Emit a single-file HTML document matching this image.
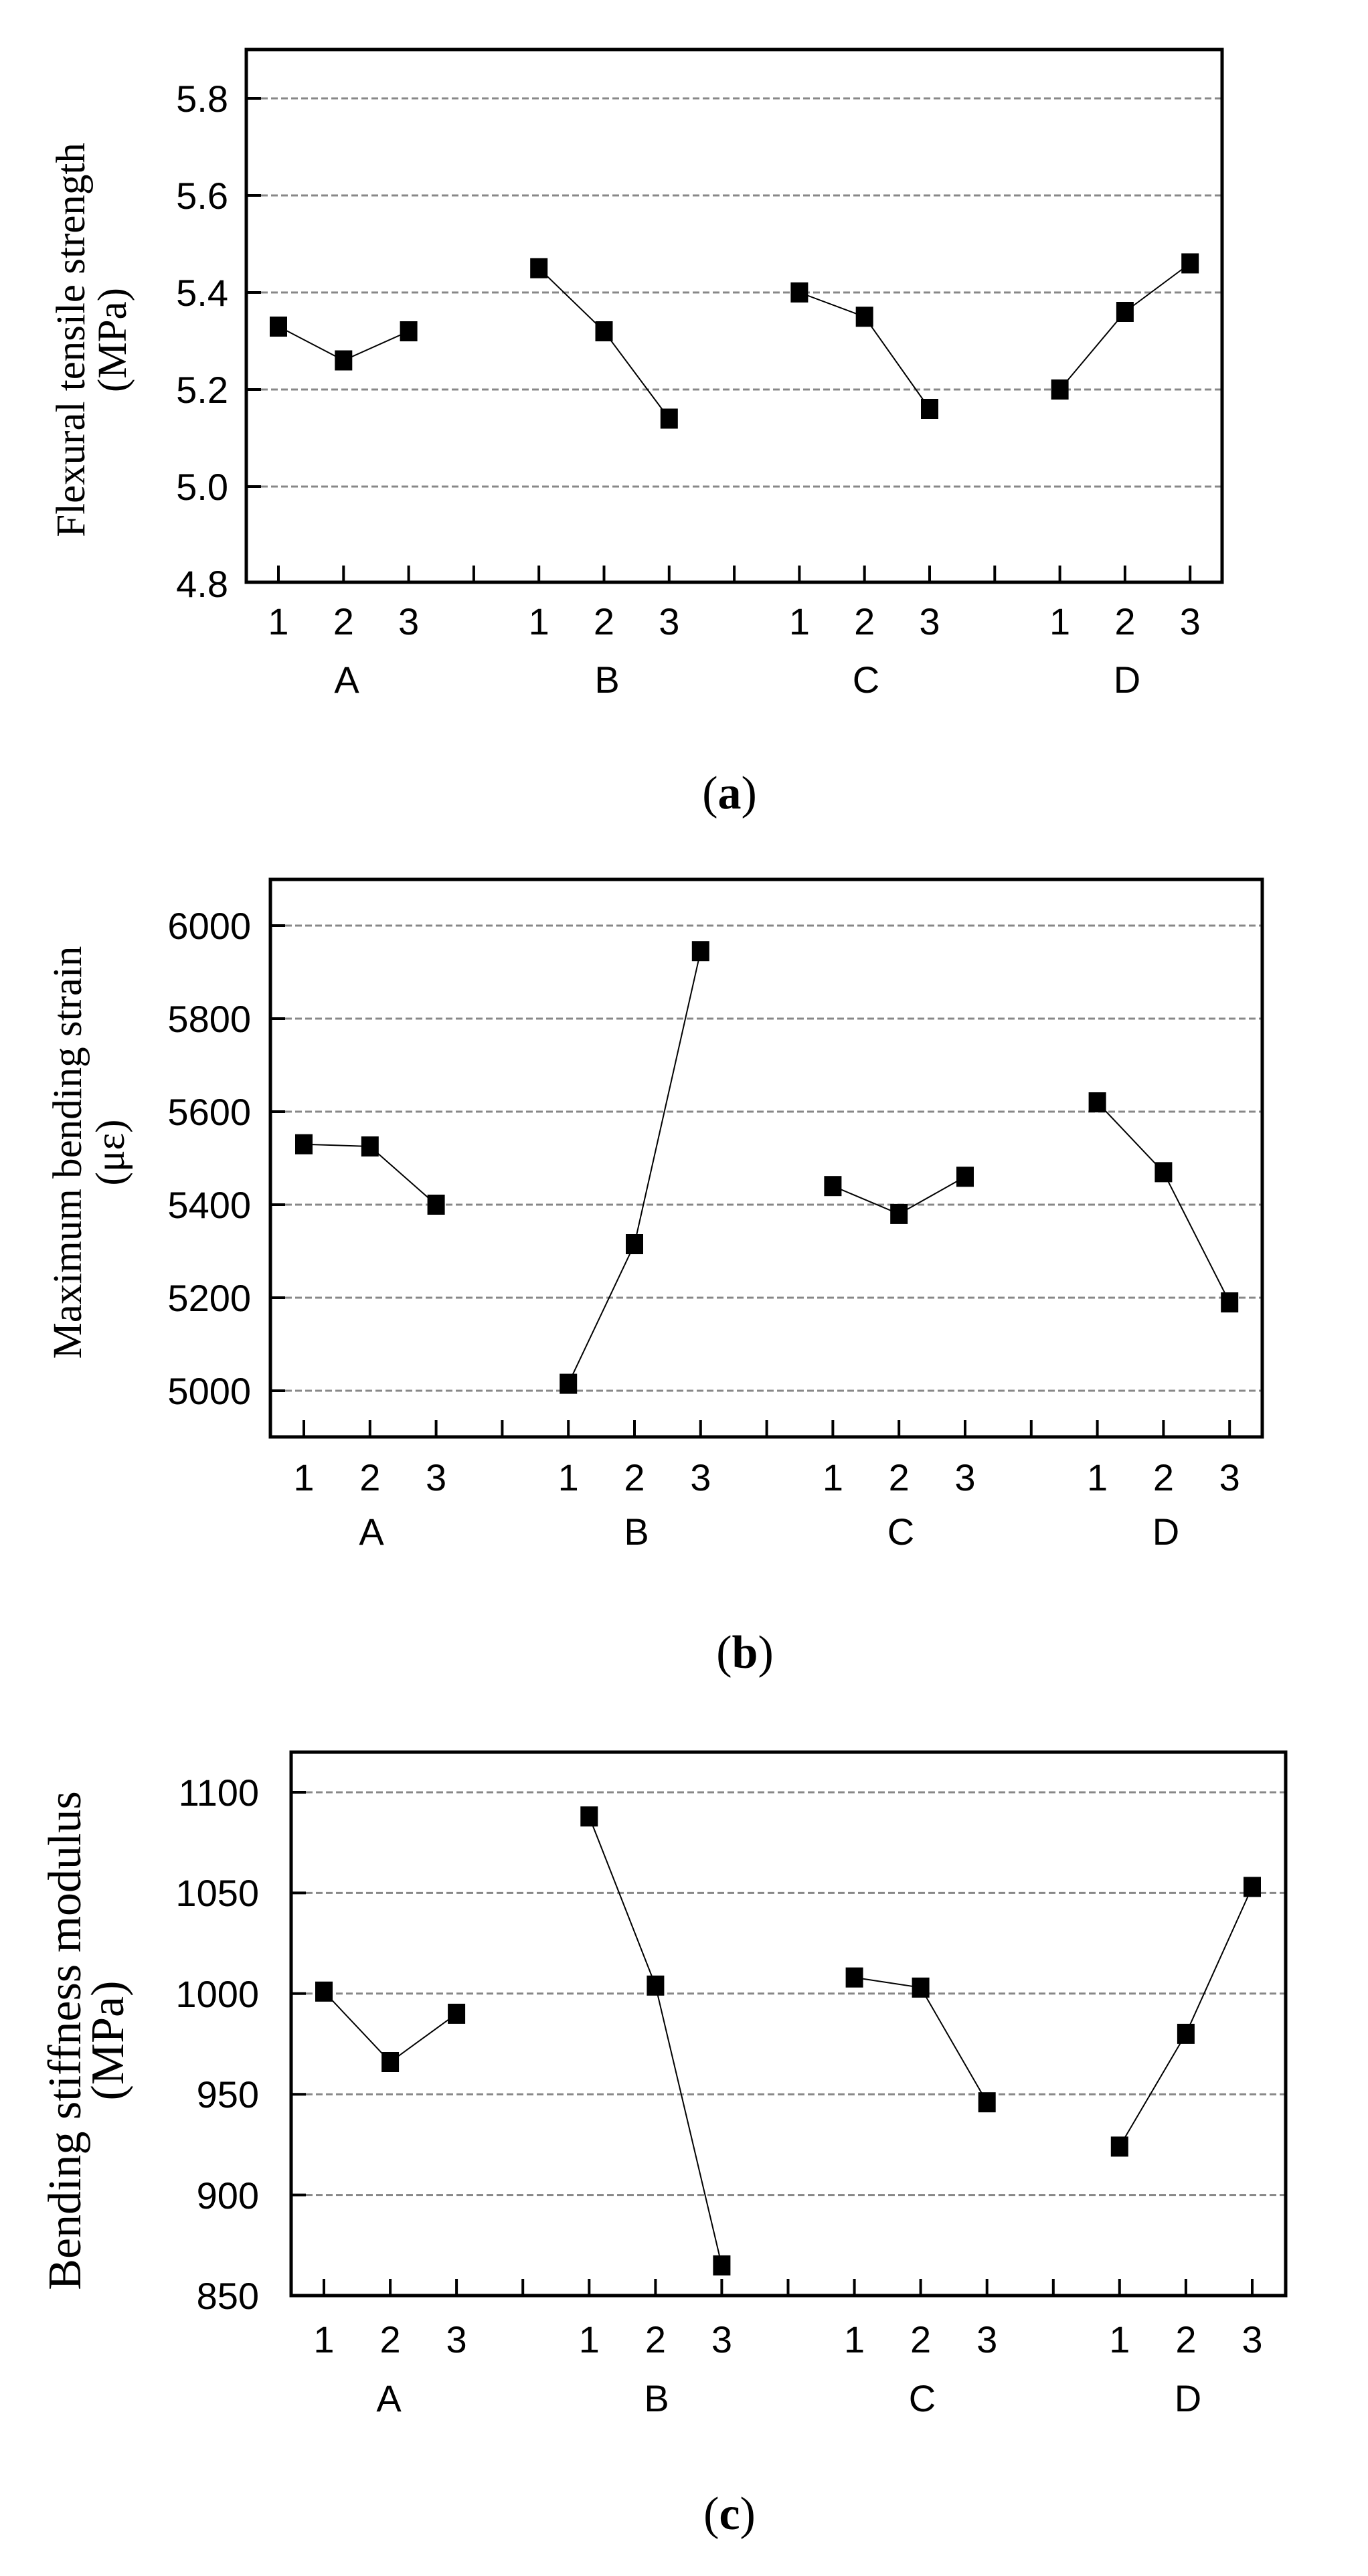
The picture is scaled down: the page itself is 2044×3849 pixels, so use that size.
<!DOCTYPE html>
<html><head><meta charset="utf-8"><style>html,body{margin:0;padding:0;background:#fff}svg{display:block}</style></head>
<body>
<svg width="2044" height="3849" viewBox="0 0 2044 3849" xmlns="http://www.w3.org/2000/svg">
<style>
.g{stroke:#888;stroke-width:3;stroke-dasharray:10 5}
.f{fill:none;stroke:#000;stroke-width:5}
.t{stroke:#000;stroke-width:4}
.l{fill:none;stroke:#000;stroke-width:2}
.n{font-family:"Liberation Sans",sans-serif;font-size:56px;fill:#000}
.ti{font-family:"Liberation Serif",serif;font-size:61px;fill:#000}
.cap{font-family:"Liberation Serif",serif;font-size:70px;fill:#000}
</style>

<!-- ===== (a) ===== -->
<g>
<line class="g" x1="390" x2="1824" y1="147" y2="147"/>
<line class="g" x1="390" x2="1824" y1="292" y2="292"/>
<line class="g" x1="390" x2="1824" y1="437" y2="437"/>
<line class="g" x1="390" x2="1824" y1="582" y2="582"/>
<line class="g" x1="390" x2="1824" y1="727" y2="727"/>
<g class="t">
<line x1="368" x2="390" y1="147" y2="147"/><line x1="368" x2="390" y1="292" y2="292"/><line x1="368" x2="390" y1="437" y2="437"/><line x1="368" x2="390" y1="582" y2="582"/><line x1="368" x2="390" y1="727" y2="727"/>
<line x1="416" x2="416" y1="870" y2="845"/><line x1="513.3" x2="513.3" y1="870" y2="845"/><line x1="610.6" x2="610.6" y1="870" y2="845"/><line x1="707.9" x2="707.9" y1="870" y2="845"/><line x1="805.2" x2="805.2" y1="870" y2="845"/><line x1="902.5" x2="902.5" y1="870" y2="845"/><line x1="999.8" x2="999.8" y1="870" y2="845"/><line x1="1097.1" x2="1097.1" y1="870" y2="845"/><line x1="1194.4" x2="1194.4" y1="870" y2="845"/><line x1="1291.7" x2="1291.7" y1="870" y2="845"/><line x1="1389" x2="1389" y1="870" y2="845"/><line x1="1486.3" x2="1486.3" y1="870" y2="845"/><line x1="1583.6" x2="1583.6" y1="870" y2="845"/><line x1="1680.9" x2="1680.9" y1="870" y2="845"/><line x1="1778.2" x2="1778.2" y1="870" y2="845"/>
</g>
<rect class="f" x="368" y="74" width="1458" height="796"/>
<g class="n" text-anchor="end">
<text x="341" y="167">5.8</text><text x="341" y="312">5.6</text><text x="341" y="457">5.4</text><text x="341" y="602">5.2</text><text x="341" y="747">5.0</text><text x="341" y="892">4.8</text>
</g>
<g class="n" text-anchor="middle">
<text x="416" y="948">1</text><text x="513.3" y="948">2</text><text x="610.6" y="948">3</text>
<text x="805.2" y="948">1</text><text x="902.5" y="948">2</text><text x="999.8" y="948">3</text>
<text x="1194.4" y="948">1</text><text x="1291.7" y="948">2</text><text x="1389" y="948">3</text>
<text x="1583.6" y="948">1</text><text x="1680.9" y="948">2</text><text x="1778.2" y="948">3</text>
<text x="518" y="1035">A</text><text x="907" y="1035">B</text><text x="1294" y="1035">C</text><text x="1684" y="1035">D</text>
</g>
<polyline class="l" points="416,487.8 513.3,538.5 610.6,495"/>
<polyline class="l" points="805.2,400.8 902.5,495 999.8,625.5"/>
<polyline class="l" points="1194.4,437 1291.7,473.3 1389,611"/>
<polyline class="l" points="1583.6,582 1680.9,466 1778.2,393.5"/>
<g fill="#000">
<rect x="403" y="473" width="26" height="30"/><rect x="500.3" y="523.5" width="26" height="30"/><rect x="597.6" y="480" width="26" height="30"/>
<rect x="792.2" y="385.8" width="26" height="30"/><rect x="889.5" y="480" width="26" height="30"/><rect x="986.8" y="610.5" width="26" height="30"/>
<rect x="1181.4" y="422" width="26" height="30"/><rect x="1278.7" y="458.3" width="26" height="30"/><rect x="1376" y="596" width="26" height="30"/>
<rect x="1570.6" y="567" width="26" height="30"/><rect x="1667.9" y="451" width="26" height="30"/><rect x="1765.2" y="378.5" width="26" height="30"/>
</g>
<g class="ti" text-anchor="middle">
<text transform="translate(126,508) rotate(-90)">Flexural tensile strength</text>
<text transform="translate(188,508) rotate(-90)">(MPa)</text>
</g>
<text class="cap" x="1090" y="1208" text-anchor="middle">(<tspan font-weight="bold">a</tspan>)</text>
</g>

<!-- ===== (b) ===== -->
<g>
<line class="g" x1="426" x2="1884" y1="1383" y2="1383"/>
<line class="g" x1="426" x2="1884" y1="1522" y2="1522"/>
<line class="g" x1="426" x2="1884" y1="1661" y2="1661"/>
<line class="g" x1="426" x2="1884" y1="1800" y2="1800"/>
<line class="g" x1="426" x2="1884" y1="1939" y2="1939"/>
<line class="g" x1="426" x2="1884" y1="2078" y2="2078"/>
<g class="t">
<line x1="404" x2="426" y1="1383" y2="1383"/><line x1="404" x2="426" y1="1522" y2="1522"/><line x1="404" x2="426" y1="1661" y2="1661"/><line x1="404" x2="426" y1="1800" y2="1800"/><line x1="404" x2="426" y1="1939" y2="1939"/><line x1="404" x2="426" y1="2078" y2="2078"/>
<line x1="454" x2="454" y1="2147" y2="2122"/><line x1="552.8" x2="552.8" y1="2147" y2="2122"/><line x1="651.6" x2="651.6" y1="2147" y2="2122"/><line x1="750.4" x2="750.4" y1="2147" y2="2122"/><line x1="849.2" x2="849.2" y1="2147" y2="2122"/><line x1="948" x2="948" y1="2147" y2="2122"/><line x1="1046.8" x2="1046.8" y1="2147" y2="2122"/><line x1="1145.6" x2="1145.6" y1="2147" y2="2122"/><line x1="1244.4" x2="1244.4" y1="2147" y2="2122"/><line x1="1343.2" x2="1343.2" y1="2147" y2="2122"/><line x1="1442" x2="1442" y1="2147" y2="2122"/><line x1="1540.8" x2="1540.8" y1="2147" y2="2122"/><line x1="1639.6" x2="1639.6" y1="2147" y2="2122"/><line x1="1738.4" x2="1738.4" y1="2147" y2="2122"/><line x1="1837.2" x2="1837.2" y1="2147" y2="2122"/>
</g>
<rect class="f" x="404" y="1314" width="1482" height="833"/>
<g class="n" text-anchor="end">
<text x="375" y="1403">6000</text><text x="375" y="1542">5800</text><text x="375" y="1681">5600</text><text x="375" y="1820">5400</text><text x="375" y="1959">5200</text><text x="375" y="2098">5000</text>
</g>
<g class="n" text-anchor="middle">
<text x="454" y="2227">1</text><text x="552.8" y="2227">2</text><text x="651.6" y="2227">3</text>
<text x="849.2" y="2227">1</text><text x="948" y="2227">2</text><text x="1046.8" y="2227">3</text>
<text x="1244.4" y="2227">1</text><text x="1343.2" y="2227">2</text><text x="1442" y="2227">3</text>
<text x="1639.6" y="2227">1</text><text x="1738.4" y="2227">2</text><text x="1837.2" y="2227">3</text>
<text x="555" y="2308">A</text><text x="951" y="2308">B</text><text x="1346" y="2308">C</text><text x="1742" y="2308">D</text>
</g>
<polyline class="l" points="454,1709.7 552.8,1713 651.6,1800"/>
<polyline class="l" points="849.2,2067.6 948,1859 1046.8,1421.2"/>
<polyline class="l" points="1244.4,1772.2 1343.2,1813.9 1442,1758.3"/>
<polyline class="l" points="1639.6,1647.1 1738.4,1751.4 1837.2,1946"/>
<g fill="#000">
<rect x="441" y="1694.7" width="26" height="30"/><rect x="539.8" y="1698" width="26" height="30"/><rect x="638.6" y="1785" width="26" height="30"/>
<rect x="836.2" y="2052.6" width="26" height="30"/><rect x="935" y="1844" width="26" height="30"/><rect x="1033.8" y="1406.2" width="26" height="30"/>
<rect x="1231.4" y="1757.2" width="26" height="30"/><rect x="1330.2" y="1798.9" width="26" height="30"/><rect x="1429" y="1743.3" width="26" height="30"/>
<rect x="1626.6" y="1632.1" width="26" height="30"/><rect x="1725.4" y="1736.4" width="26" height="30"/><rect x="1824.2" y="1931" width="26" height="30"/>
</g>
<g class="ti" text-anchor="middle" style="font-size:61px">
<text transform="translate(121,1722) rotate(-90)">Maximum bending strain</text>
<text transform="translate(185,1722) rotate(-90)">(με)</text>
</g>
<text class="cap" x="1113" y="2492" text-anchor="middle">(<tspan font-weight="bold">b</tspan>)</text>
</g>

<!-- ===== (c) ===== -->
<g>
<line class="g" x1="457" x2="1919" y1="2678" y2="2678"/>
<line class="g" x1="457" x2="1919" y1="2828.4" y2="2828.4"/>
<line class="g" x1="457" x2="1919" y1="2978.8" y2="2978.8"/>
<line class="g" x1="457" x2="1919" y1="3129.2" y2="3129.2"/>
<line class="g" x1="457" x2="1919" y1="3279.6" y2="3279.6"/>
<g class="t">
<line x1="435" x2="457" y1="2678" y2="2678"/><line x1="435" x2="457" y1="2828.4" y2="2828.4"/><line x1="435" x2="457" y1="2978.8" y2="2978.8"/><line x1="435" x2="457" y1="3129.2" y2="3129.2"/><line x1="435" x2="457" y1="3279.6" y2="3279.6"/>
<line x1="484" x2="484" y1="3430" y2="3405"/><line x1="583.1" x2="583.1" y1="3430" y2="3405"/><line x1="682.1" x2="682.1" y1="3430" y2="3405"/><line x1="781.2" x2="781.2" y1="3430" y2="3405"/><line x1="880.3" x2="880.3" y1="3430" y2="3405"/><line x1="979.4" x2="979.4" y1="3430" y2="3405"/><line x1="1078.4" x2="1078.4" y1="3430" y2="3405"/><line x1="1177.5" x2="1177.5" y1="3430" y2="3405"/><line x1="1276.6" x2="1276.6" y1="3430" y2="3405"/><line x1="1375.6" x2="1375.6" y1="3430" y2="3405"/><line x1="1474.7" x2="1474.7" y1="3430" y2="3405"/><line x1="1573.8" x2="1573.8" y1="3430" y2="3405"/><line x1="1672.8" x2="1672.8" y1="3430" y2="3405"/><line x1="1771.9" x2="1771.9" y1="3430" y2="3405"/><line x1="1871" x2="1871" y1="3430" y2="3405"/>
</g>
<rect class="f" x="435" y="2618" width="1486" height="812"/>
<g class="n" text-anchor="end">
<text x="387" y="2698">1100</text><text x="387" y="2848">1050</text><text x="387" y="2999">1000</text><text x="387" y="3149">950</text><text x="387" y="3300">900</text><text x="387" y="3450">850</text>
</g>
<g class="n" text-anchor="middle">
<text x="484" y="3515">1</text><text x="583.1" y="3515">2</text><text x="682.1" y="3515">3</text>
<text x="880.3" y="3515">1</text><text x="979.4" y="3515">2</text><text x="1078.4" y="3515">3</text>
<text x="1276.6" y="3515">1</text><text x="1375.6" y="3515">2</text><text x="1474.7" y="3515">3</text>
<text x="1672.8" y="3515">1</text><text x="1771.9" y="3515">2</text><text x="1871" y="3515">3</text>
<text x="581" y="3603">A</text><text x="981" y="3603">B</text><text x="1378" y="3603">C</text><text x="1775" y="3603">D</text>
</g>
<polyline class="l" points="484,2975.8 583.1,3081 682.1,3008.9"/>
<polyline class="l" points="880.3,2714.1 979.4,2966.8 1078.4,3384.9"/>
<polyline class="l" points="1276.6,2954.7 1375.6,2969.8 1474.7,3141.2"/>
<polyline class="l" points="1672.8,3207.4 1771.9,3038.9 1871,2819.4"/>
<g fill="#000">
<rect x="471" y="2960.8" width="26" height="30"/><rect x="570.1" y="3066" width="26" height="30"/><rect x="669.1" y="2993.9" width="26" height="30"/>
<rect x="867.3" y="2699.1" width="26" height="30"/><rect x="966.4" y="2951.8" width="26" height="30"/><rect x="1065.4" y="3369.9" width="26" height="30"/>
<rect x="1263.6" y="2939.7" width="26" height="30"/><rect x="1362.6" y="2954.8" width="26" height="30"/><rect x="1461.7" y="3126.2" width="26" height="30"/>
<rect x="1659.8" y="3192.4" width="26" height="30"/><rect x="1758.9" y="3023.9" width="26" height="30"/><rect x="1858" y="2804.4" width="26" height="30"/>
</g>
<g class="ti" text-anchor="middle" style="font-size:70px">
<text transform="translate(120,3049) rotate(-90)">Bending stiffness modulus</text>
<text transform="translate(184,3049) rotate(-90)">(MPa)</text>
</g>
<text class="cap" x="1090" y="3779" text-anchor="middle">(<tspan font-weight="bold">c</tspan>)</text>
</g>
</svg>
</body></html>
